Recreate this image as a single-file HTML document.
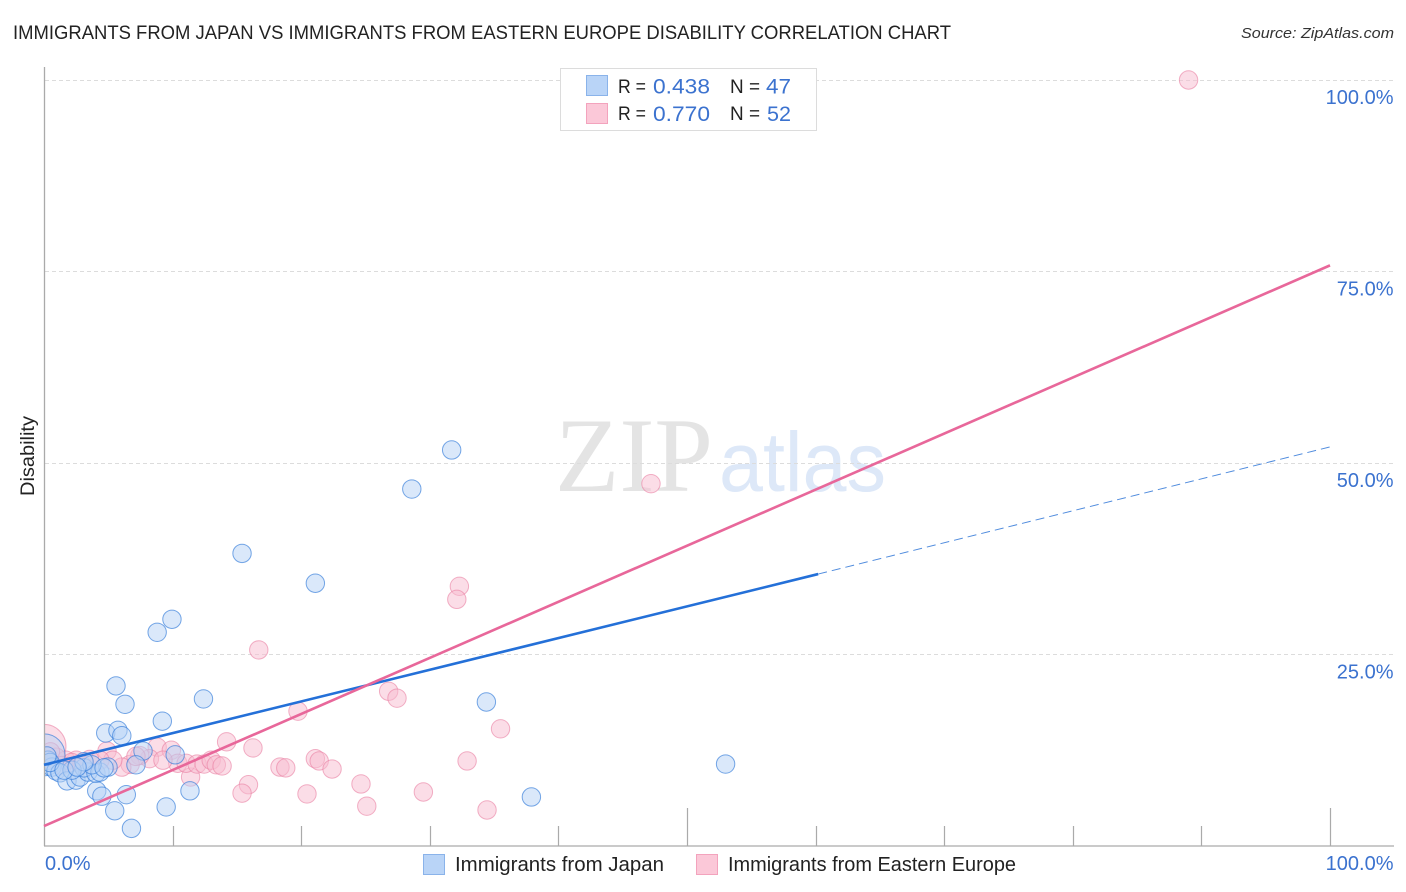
<!DOCTYPE html>
<html lang="en">
<head>
<meta charset="utf-8">
<title>Immigrants from Japan vs Immigrants from Eastern Europe Disability Correlation Chart</title>
<style>
html,body{margin:0;padding:0;background:#fff;width:1406px;height:892px;overflow:hidden}
svg{display:block;font-family:"Liberation Sans",sans-serif}
</style>
</head>
<body>
<svg id="chart" width="1406" height="892" viewBox="0 0 1406 892" xmlns="http://www.w3.org/2000/svg">
  <text x="13" y="39" font-size="19.5" fill="#222" textLength="938" lengthAdjust="spacingAndGlyphs">IMMIGRANTS FROM JAPAN VS IMMIGRANTS FROM EASTERN EUROPE DISABILITY CORRELATION CHART</text>
  <text x="1241" y="38" font-size="15" font-style="italic" fill="#333" textLength="153" lengthAdjust="spacingAndGlyphs">Source: ZipAtlas.com</text>
  <g>
    <text x="555" y="491" font-size="106" fill="#e4e4e4" font-family="'Liberation Serif',serif" textLength="158" lengthAdjust="spacingAndGlyphs">ZIP</text>
    <text x="719" y="491" font-size="84" fill="#dde8f8" textLength="167" lengthAdjust="spacingAndGlyphs">atlas</text>
  </g>
  <g id="grid"></g>
  <g id="points"></g>
  <rect x="0" y="60" width="45" height="790" fill="#fff"/>
  <g id="axes"></g>
  <g id="trends"></g>
  <g id="labels"></g>
  <text transform="translate(34,456) rotate(-90)" text-anchor="middle" font-size="19.5" fill="#222" textLength="80" lengthAdjust="spacingAndGlyphs">Disability</text>

  <g>
    <rect x="560.5" y="68.5" width="256" height="62" fill="#fff" stroke="#dcdcdc"/>
    <rect x="586.5" y="75.5" width="21" height="20" fill="#b9d4f7" stroke="#8ab3ea"/>
    <rect x="586.5" y="103.5" width="21" height="20" fill="#fbc8d8" stroke="#f3a3bd"/>
    <text x="618" y="93" font-size="19.5" fill="#222" textLength="28" lengthAdjust="spacingAndGlyphs">R =</text>
    <text x="653" y="93.5" font-size="21.5" fill="#3b72cf" textLength="57" lengthAdjust="spacingAndGlyphs">0.438</text>
    <text x="730" y="93" font-size="19.5" fill="#222" textLength="30" lengthAdjust="spacingAndGlyphs">N =</text>
    <text x="766" y="93.5" font-size="21.5" fill="#3b72cf" textLength="25" lengthAdjust="spacingAndGlyphs">47</text>
    <text x="618" y="120" font-size="19.5" fill="#222" textLength="28" lengthAdjust="spacingAndGlyphs">R =</text>
    <text x="653" y="121" font-size="21.5" fill="#3b72cf" textLength="57" lengthAdjust="spacingAndGlyphs">0.770</text>
    <text x="730" y="120" font-size="19.5" fill="#222" textLength="30" lengthAdjust="spacingAndGlyphs">N =</text>
    <text x="767" y="121" font-size="21.5" fill="#3b72cf" textLength="24" lengthAdjust="spacingAndGlyphs">52</text>
  </g>

  <g>
    <rect x="423.5" y="854.5" width="21" height="20" fill="#b9d4f7" stroke="#8ab3ea"/>
    <text x="455" y="871" font-size="20" fill="#222" textLength="209" lengthAdjust="spacingAndGlyphs">Immigrants from Japan</text>
    <rect x="696.5" y="854.5" width="21" height="20" fill="#fbc8d8" stroke="#f3a3bd"/>
    <text x="728" y="871" font-size="20" fill="#222" textLength="288" lengthAdjust="spacingAndGlyphs">Immigrants from Eastern Europe</text>
  </g>
</svg>
<script>
const yTicks = [25, 50, 75, 100];
const yTickLabels = ['25.0%', '50.0%', '75.0%', '100.0%'];
const xTicks = [0, 10, 20, 30, 40, 50, 60, 70, 80, 90, 100];
const xMajorTicks = [50, 100];
const xEndLabels = ['0.0%', '100.0%'];

const japanX = [0, 31.7, 28.6, 15.4, 21.1, 9.95, 8.8, 5.6, 6.3, 12.4, 34.4, 9.2, 4.8, 5.75, 6.05, 7.7, 10.2, 53.0, 7.15, 37.9, 11.35, 6.4, 4.1, 4.5, 9.5, 5.5, 6.8, 0.31, 0.62, 0.93, 1.24, 1.79, 2.49, 2.8, 3.42, 3.11, 4.04, 4.35, 4.98, 3.73, 2.18, 0.47, 1.56, 3.11, 4.67, 2.57, 0.23];
const japanY = [11.9, 51.7, 46.6, 38.2, 34.3, 29.6, 27.9, 20.9, 18.5, 19.2, 18.8, 16.3, 14.75, 15.1, 14.4, 12.4, 11.9, 10.7, 10.6, 6.4, 7.2, 6.7, 7.2, 6.5, 5.1, 4.6, 2.3, 11.2, 10.3, 9.8, 9.55, 8.5, 8.6, 9.0, 9.65, 10.2, 9.5, 9.65, 10.3, 10.6, 9.9, 10.9, 9.9, 11.0, 10.2, 10.3, 11.75];

const easternEuropeX = [0, 89, 47.2, 32.3, 32.1, 16.7, 26.8, 27.45, 19.75, 35.5, 14.2, 16.25, 8.8, 9.9, 4.9, 32.9, 21.1, 21.4, 18.35, 18.8, 22.4, 24.65, 15.9, 11.4, 15.4, 20.45, 29.5, 25.1, 34.45, 10.4, 11.05, 11.9, 12.45, 13, 13.4, 13.85, 8.2, 7.45, 9.25, 6.7, 6.05, 5.35, 4.35, 3.55, 2.5, 1.7, 0.95, 0.5, 7.15, 2.15, 2.95, 1.4];
const easternEuropeY = [13.0, 100, 47.3, 33.9, 32.2, 25.6, 20.2, 19.3, 17.6, 15.3, 13.6, 12.8, 12.9, 12.5, 12.4, 11.1, 11.4, 11.1, 10.3, 10.2, 10.05, 8.1, 8.0, 9.0, 6.9, 6.8, 7.05, 5.2, 4.7, 10.8, 10.8, 10.7, 10.7, 11.2, 10.6, 10.45, 11.4, 11.8, 11.2, 10.65, 10.3, 11.2, 11.2, 11.3, 11.2, 11.2, 11.6, 12.3, 11.7, 10.9, 10.6, 10.5];

const japanTrendX = [0, 60.2, 100];
const japanTrendY = [10.6, 35.5, 52.1];
const easternEuropeTrendX = [0, 100];
const easternEuropeTrendY = [2.6, 75.8];

const svgNS = 'http://www.w3.org/2000/svg';
const xScale = v => 44 + v * 12.86;
const yScale = v => 846 - v * 7.66;
const make = (tag, parent, props) => {
  const el = document.createElementNS(svgNS, tag);
  Object.keys(props).forEach(k => el.setAttribute(k, props[k]));
  parent.appendChild(el);
  return el;
};

const grid = document.getElementById('grid');
const axes = document.getElementById('axes');
const labels = document.getElementById('labels');
const points = document.getElementById('points');
const trends = document.getElementById('trends');

yTicks.forEach((t, i) => {
  const y = Math.floor(yScale(t)) + 0.5;
  const line = make('line', grid, {x1: 45, x2: 1394, y1: y, y2: y, stroke: '#dcdcdc', 'stroke-width': 1, 'stroke-dasharray': '4 3'});
  
  
  const label = make('text', labels, {x: 1393.5, y: yScale(t) + 24, 'text-anchor': 'end', 'font-size': 20, fill: '#3b72cf'});
  
  
  label.textContent = yTickLabels[i];
});

const yAxis = make('line', axes, {x1: 44.5, x2: 44.5, y1: 67, y2: 846, stroke: '#aaa', 'stroke-width': 1.3});


const xAxis = make('line', axes, {x1: 44, x2: 1394, y1: 846, y2: 846, stroke: '#aaa', 'stroke-width': 1.3});


xTicks.slice(1).forEach(t => {
  const x = Math.round(xScale(t)) + 0.5;
  const top = xMajorTicks.includes(t) ? 808 : 826;
  const tick = make('line', axes, {x1: x, x2: x, y1: top, y2: 846, stroke: '#aaa', 'stroke-width': 1.2});
  
  
});

const x0 = make('text', labels, {x: 45, y: 870, 'font-size': 20, fill: '#3b72cf'});


x0.textContent = xEndLabels[0];
const x1 = make('text', labels, {x: 1393.5, y: 870, 'text-anchor': 'end', 'font-size': 20, fill: '#3b72cf'});


x1.textContent = xEndLabels[1];

const drawSeries = (xs, ys, fill, stroke, strokeOpacity, bigR, name) => {
  xs.forEach((v, i) => {
    const c = make('circle', points, {cx: xScale(v), cy: yScale(ys[i]), r: i === 0 ? bigR : 9.2, fill: fill, 'fill-opacity': 0.5, stroke: stroke, 'stroke-opacity': strokeOpacity, 'stroke-width': 1});
    
    
  });
};
drawSeries(easternEuropeX, easternEuropeY, '#f8bccf', '#ea7fa2', 0.6, 22, 'point-eastern-europe');
drawSeries(japanX, japanY, '#b5d1f5', '#2f7ad9', 0.65, 21, 'point-japan');

const japanSolid = make('line', trends, {x1: xScale(japanTrendX[0]), y1: yScale(japanTrendY[0]), x2: xScale(japanTrendX[1]), y2: yScale(japanTrendY[1]), stroke: '#2470d8', 'stroke-width': 2.6});


const japanDash = make('line', trends, {x1: xScale(japanTrendX[1]), y1: yScale(japanTrendY[1]), x2: xScale(japanTrendX[2]), y2: yScale(japanTrendY[2]), stroke: '#4f8bdd', 'stroke-width': 1, 'stroke-dasharray': '9 5'});


const pinkLine = make('line', trends, {x1: xScale(easternEuropeTrendX[0]), y1: yScale(easternEuropeTrendY[0]), x2: xScale(easternEuropeTrendX[1]), y2: yScale(easternEuropeTrendY[1]), stroke: '#e8679a', 'stroke-width': 2.6});


</script>
</body>
</html>
